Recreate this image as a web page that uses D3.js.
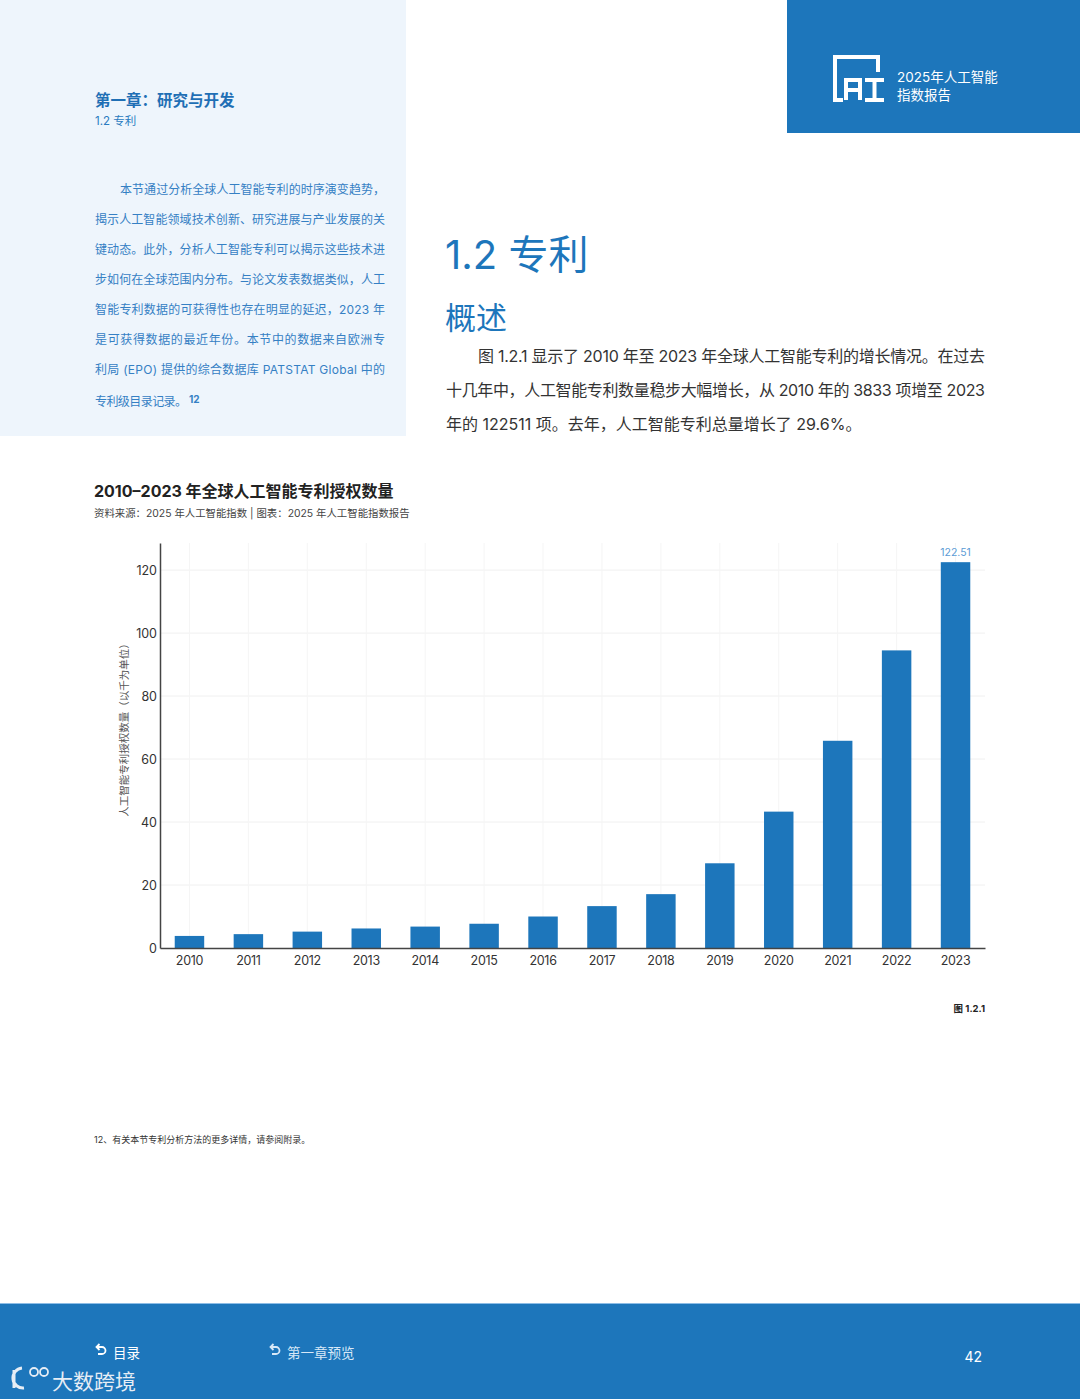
<!DOCTYPE html>
<html>
<head>
<meta charset="utf-8">
<script src="https://cdn.jsdelivr.net/npm/d3@7"></script>
<style>
    body { margin: 0; background: #fff; }
    svg text { font-family: Inter, "Noto Sans CJK SC", sans-serif; }
</style>
</head>
<body>
<div class="page"></div>
<script>
// chart data (thousands of AI patents granted)
var years = ["2010", "2011", "2012", "2013", "2014", "2015", "2016",
    "2017", "2018", "2019", "2020", "2021", "2022", "2023"];
var patents = [3.83, 4.4, 5.2, 6.2, 6.8, 7.7, 10.0, 13.3, 17.1, 26.9, 43.3, 65.8, 94.5, 122.51];
var yTicks = [0, 20, 40, 60, 80, 100, 120];

var blue = "#1d76bb";
var svgWidth = 1080;
var svgHeight = 1399;

var svg = d3.select(".page")
    .append("svg")
    .attr("width", svgWidth)
    .attr("height", svgHeight);

// ---- page decoration ----
svg.append("rect")
    .attr("x", 0).attr("y", 0)
    .attr("width", 406).attr("height", 436)
    .attr("fill", "#eef5fc");

svg.append("rect")
    .attr("x", 787).attr("y", 0)
    .attr("width", 293).attr("height", 133)
    .attr("fill", blue);

// AI logo
var logo = svg.append("g")
    .attr("fill", "none")
    .attr("stroke", "#fff")
    .attr("stroke-width", 4);
logo.append("path").attr("d", "M843,100 H835 V57 H878 V72");
logo.append("path").attr("d", "M846,100 V80 H860 V100 M846,90 H860");
logo.append("path").attr("d", "M865,80 H884 M874.5,80 V100 M865,100 H884");

svg.append("text")
    .attr("x", 897).attr("y", 82)
    .attr("font-size", 13.5).attr("fill", "#fff")
    .text("2025年人工智能");
svg.append("text")
    .attr("x", 897).attr("y", 100)
    .attr("font-size", 13.5).attr("fill", "#fff")
    .text("指数报告");

svg.append("text")
    .attr("x", 95).attr("y", 106)
    .attr("font-size", 15.5).attr("font-weight", "bold")
    .attr("fill", "#1f6fb5")
    .text("第一章：研究与开发");
svg.append("text")
    .attr("x", 95).attr("y", 125)
    .attr("font-size", 11.5).attr("fill", "#2a7bc0")
    .text("1.2 专利");

var sideLines = [
    "本节通过分析全球人工智能专利的时序演变趋势，",
    "揭示人工智能领域技术创新、研究进展与产业发展的关",
    "键动态。此外，分析人工智能专利可以揭示这些技术进",
    "步如何在全球范围内分布。与论文发表数据类似，人工",
    "智能专利数据的可获得性也存在明显的延迟，2023 年",
    "是可获得数据的最近年份。本节中的数据来自欧洲专",
    "利局 (EPO) 提供的综合数据库 PATSTAT Global 中的",
    "专利级目录记录。"
];
sideLines.forEach(function (line, i) {
    var x0 = i === 0 ? 120 : 95;
    var t = svg.append("text")
        .attr("x", x0).attr("y", 194 + i * 30 + (i === 7 ? 2 : 0))
        .attr("font-size", 12).attr("fill", "#3580c4")
        .text(line);
    if (i < 7) {
        t.attr("textLength", 385 - x0).attr("lengthAdjust", "spacing");
    } else {
        t.attr("textLength", 92).attr("lengthAdjust", "spacing");
    }
});
svg.append("text")
    .attr("x", 189).attr("y", 403)
    .attr("font-size", 10).attr("font-weight", "bold").attr("fill", "#3580c4")
    .text("12");

svg.append("text")
    .attr("x", 445).attr("y", 269)
    .attr("font-size", 40).attr("fill", blue)
    .text("1.2 专利");
svg.append("text")
    .attr("x", 445).attr("y", 329)
    .attr("font-size", 31).attr("fill", blue)
    .text("概述");

var bodyLines = [
    "图 1.2.1 显示了 2010 年至 2023 年全球人工智能专利的增长情况。在过去",
    "十几年中，人工智能专利数量稳步大幅增长，从 2010 年的 3833 项增至 2023",
    "年的 122511 项。去年，人工智能专利总量增长了 29.6%。"
];
bodyLines.forEach(function (line, i) {
    var x0 = i === 0 ? 478 : 446;
    var t = svg.append("text")
        .attr("x", x0).attr("y", 362 + i * 34)
        .attr("font-size", 16).attr("fill", "#333")
        .text(line);
    if (i < 2) {
        t.attr("textLength", 985 - x0).attr("lengthAdjust", "spacing");
    }
});

// ---- chart ----
svg.append("text")
    .attr("x", 94).attr("y", 497)
    .attr("font-size", 16).attr("font-weight", "bold").attr("fill", "#222")
    .text("2010–2023 年全球人工智能专利授权数量");
svg.append("text")
    .attr("x", 94).attr("y", 517)
    .attr("font-size", 10.4).attr("fill", "#444")
    .text("资料来源：2025 年人工智能指数 | 图表：2025 年人工智能指数报告");

var margin = { top: 543, left: 160, right: 95, bottom: 451 };
var width = svgWidth - margin.left - margin.right;
var height = svgHeight - margin.top - margin.bottom;

var chartGroup = svg.append("g")
    .attr("transform", `translate(${margin.left}, ${margin.top})`);

var xBandScale = d3.scaleBand()
    .domain(years)
    .range([0, width])
    .paddingInner(0.5)
    .paddingOuter(0.25);

var yLinearScale = d3.scaleLinear()
    .domain([0, 128.6])
    .range([height, 0]);

// grid
chartGroup.append("g")
    .selectAll("line")
    .data(yTicks.slice(1))
    .enter()
    .append("line")
    .attr("x1", 0).attr("x2", width)
    .attr("y1", d => yLinearScale(d)).attr("y2", d => yLinearScale(d))
    .attr("stroke", "#f0f0f0");

chartGroup.append("g")
    .selectAll("line")
    .data(years)
    .enter()
    .append("line")
    .attr("x1", d => xBandScale(d) + xBandScale.bandwidth() / 2)
    .attr("x2", d => xBandScale(d) + xBandScale.bandwidth() / 2)
    .attr("y1", 0).attr("y2", height)
    .attr("stroke", "#f5f5f5");

chartGroup.selectAll(".bar")
    .data(patents)
    .enter()
    .append("rect")
    .classed("bar", true)
    .attr("x", (d, i) => xBandScale(years[i]))
    .attr("y", d => yLinearScale(d))
    .attr("width", xBandScale.bandwidth())
    .attr("height", d => height - yLinearScale(d))
    .attr("fill", blue);

chartGroup.append("text")
    .attr("x", xBandScale("2023") + xBandScale.bandwidth() / 2)
    .attr("y", yLinearScale(patents[13]) - 6)
    .attr("text-anchor", "middle")
    .attr("font-size", 10.5).attr("fill", "#5b9bd5")
    .text(d3.format(".2f")(patents[13]));

var bottomAxis = d3.axisBottom(xBandScale).tickSize(0).tickPadding(8);
var leftAxis = d3.axisLeft(yLinearScale).tickValues(yTicks).tickSize(0).tickPadding(3);

var xAxis = chartGroup.append("g")
    .attr("transform", `translate(0, ${height})`)
    .call(bottomAxis);
xAxis.select(".domain").attr("stroke", "#444").attr("stroke-width", 1.5);
xAxis.selectAll("text")
    .attr("font-size", 12.5).attr("fill", "#333")
    .attr("letter-spacing", "-0.3");

var yAxis = chartGroup.append("g")
    .call(leftAxis);
yAxis.select(".domain").attr("stroke", "#444").attr("stroke-width", 1.5);
yAxis.selectAll("text")
    .attr("font-size", 12.5).attr("fill", "#333");

chartGroup.append("text")
    .attr("transform", "rotate(-90)")
    .attr("x", -(yLinearScale(70)))
    .attr("y", -32)
    .attr("text-anchor", "middle")
    .attr("font-size", 10.5).attr("fill", "#555")
    .text("人工智能专利授权数量（以千为单位）");

svg.append("text")
    .attr("x", 985).attr("y", 1012)
    .attr("text-anchor", "end")
    .attr("font-size", 9.5).attr("font-weight", "bold").attr("fill", "#222")
    .text("图 1.2.1");

svg.append("text")
    .attr("x", 94).attr("y", 1143)
    .attr("font-size", 9).attr("fill", "#333")
    .text("12、有关本节专利分析方法的更多详情，请参阅附录。");

// ---- footer ----
svg.append("rect")
    .attr("x", 0).attr("y", 1303)
    .attr("width", svgWidth).attr("height", 96)
    .attr("fill", blue);
svg.append("line")
    .attr("x1", 0).attr("x2", svgWidth)
    .attr("y1", 1303.5).attr("y2", 1303.5)
    .attr("stroke", "#8dbde6");

function backArrow(x, y, color) {
    svg.append("path")
        .attr("d", `M${x},${y - 5} H${x + 5} A3.5,3.5 0 0 1 ${x + 5},${y + 2} H${x + 1}`)
        .attr("fill", "none").attr("stroke", color).attr("stroke-width", 1.8);
    svg.append("path")
        .attr("d", `M${x + 2.5},${y - 8} L${x - 0.5},${y - 5} L${x + 2.5},${y - 2}`)
        .attr("fill", "none").attr("stroke", color).attr("stroke-width", 1.8);
}
backArrow(97, 1352, "#fff");
svg.append("text")
    .attr("x", 113).attr("y", 1358)
    .attr("font-size", 13.5).attr("fill", "#fff")
    .text("目录");
backArrow(271, 1352, "#d7e8f7");
svg.append("text")
    .attr("x", 287).attr("y", 1358)
    .attr("font-size", 13.5).attr("fill", "#d7e8f7")
    .text("第一章预览");
svg.append("text")
    .attr("x", 982).attr("y", 1362)
    .attr("text-anchor", "end")
    .attr("font-size", 14).attr("fill", "#fff")
    .text("42");

// watermark
svg.append("path")
    .attr("d", "M14,1370 V1388 M22,1368 A7,7 0 1 0 24,1388")
    .attr("fill", "none").attr("stroke", "#e6edf5").attr("stroke-width", 3);
svg.append("circle").attr("cx", 34).attr("cy", 1372).attr("r", 4)
    .attr("fill", "none").attr("stroke", "#e6edf5").attr("stroke-width", 1.8);
svg.append("circle").attr("cx", 44).attr("cy", 1372).attr("r", 4)
    .attr("fill", "none").attr("stroke", "#e6edf5").attr("stroke-width", 1.8);
svg.append("text")
    .attr("x", 52).attr("y", 1389)
    .attr("font-size", 21).attr("fill", "#e6edf5")
    .text("大数跨境");
</script>
</body>
</html>
